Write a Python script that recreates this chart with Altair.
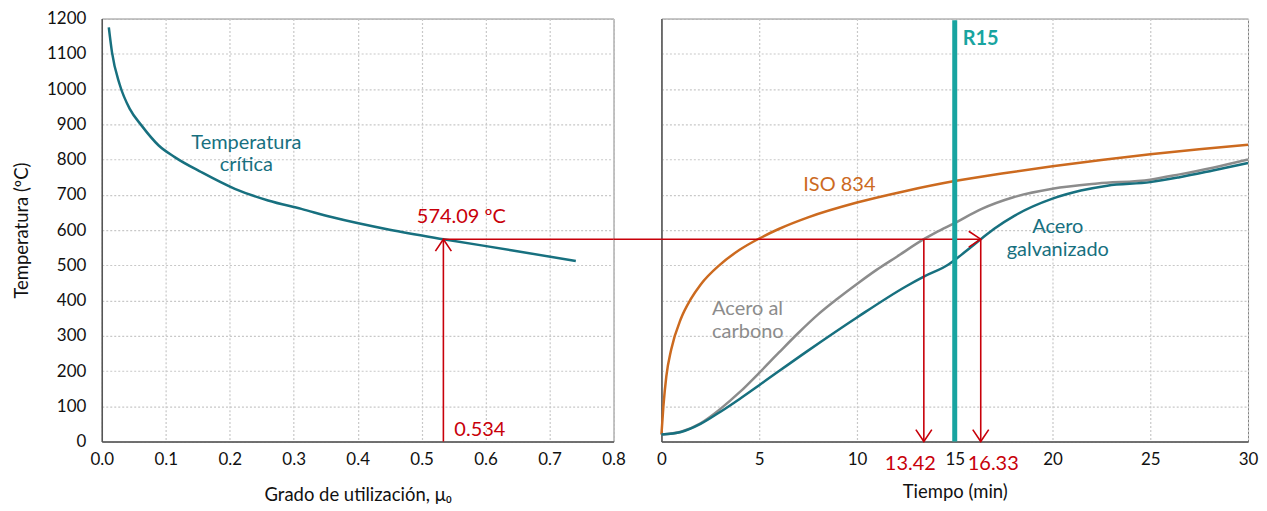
import altair as alt
import pandas as pd

# ---------------- data ----------------
# Left panel: critical temperature vs degree of utilisation
mu_crit = [0.011, 0.016, 0.028, 0.044, 0.062, 0.089, 0.114, 0.156, 0.208, 0.26,
           0.312, 0.359, 0.45, 0.534, 0.64, 0.741]
T_crit = [1175, 1104, 1013, 943, 897, 840, 807, 764, 717, 684,
          660, 637, 601, 574.09, 543, 512]

# Right panel: temperature vs time
t_iso = [0, 0.1, 0.25, 0.5, 1, 1.5, 2, 3, 4, 5, 6, 7.5, 10, 12.5, 15, 17.5, 20, 22.5, 25, 27.5, 30]
T_iso = [20, 100, 185, 261, 349, 404, 445, 502, 544, 576, 603, 636, 678, 711, 739, 761, 781, 799, 815, 829, 842]

t_carb = [0, 1, 2, 3, 4, 5, 6, 7, 8, 9, 10, 11, 12, 13.42, 14, 15, 16.38,
          18, 20, 22.3, 25, 26.5, 28.2, 30]
T_carb = [20, 28, 52, 92, 140, 195, 252, 308, 360, 405, 447, 487, 523, 574.09, 592, 620, 660,
          693, 717, 732, 743, 758, 777, 800]

t_galv = [0, 1, 2, 3, 4, 5, 7.5, 10, 12.5, 13.42, 14.7, 15, 15.5, 16.33, 17, 18.07,
          20, 21.45, 22.8, 25, 26.5, 28.2, 30]
T_galv = [20, 27, 50, 84, 121, 160, 258, 352, 440, 468, 503, 515, 537, 574.09, 603, 641,
          689, 712, 726, 736, 750, 769, 790]

series_names = ["ISO 834", "Acero al carbono", "Acero galvanizado"]

MU0 = 0.534
T_CRIT = 574.09
T_CARB_HIT = 13.42
T_GALV_HIT = 16.33
R15 = 15
R15_TOP = 1195

MU_DOMAIN = [0, 0.8]
T_DOMAIN = [0, 1200]
TIME_DOMAIN = [0, 30]
MU_TICKS = [i / 10 for i in range(9)]
T_TICKS = list(range(0, 1201, 100))
TIME_TICKS = list(range(0, 31, 5))

# ---------------- styles ----------------
FONT = "Lato"
TEAL = "#17707f"
ORANGE = "#cc6a1f"
GRAY = "#8c8c8c"
RED = "#c8000a"
R15C = "#18a4a0"

W_L, W_R, H, GAP = 513, 588, 424, 48
ANN = 20  # annotation font size

UP = "M-1,1.5L0,0L1,1.5"
DOWN = "M-1,-1.5L0,0L1,-1.5"
RIGHT = "M-1.5,-1L0,0L-1.5,1"

AX = dict(labelFont=FONT, labelFontSize=17, labelColor="#111111", labelOverlap=False,
          labelFlush=False, ticks=False, grid=True, gridColor="#c8c8c8",
          gridDash=[2, 2], gridWidth=1.2, domainColor="#555555", domainWidth=1.5,
          titleFont=FONT, titleFontSize=18.5, titleFontWeight="normal", titleColor="#111111")

# ---------------- left panel ----------------
df_crit = pd.DataFrame({"mu": mu_crit, "T": T_crit})
df_pt = pd.DataFrame({"mu": [MU0], "T": [T_CRIT], "T0": [T_DOMAIN[0]],
                      "muend": [MU_DOMAIN[1]],
                      "lab": [f"{T_CRIT:.2f} ºC"], "mulab": [f"{MU0:.3f}"]})

xs_l = alt.Scale(domain=MU_DOMAIN, nice=False)
ys = alt.Scale(domain=T_DOMAIN, nice=False)

ax_lx = alt.Axis(values=MU_TICKS, format=".1f", title="Grado de utilización, μ₀",
                 labelPadding=10, titlePadding=18, **AX)
ax_ly = alt.Axis(values=T_TICKS, format="d", title="Temperatura (ºC)",
                 labelPadding=16, titlePadding=15, **AX)

left_line = alt.Chart(df_crit).mark_line(color=TEAL, strokeWidth=2.5,
                                         interpolate="monotone").encode(
    x=alt.X("mu:Q", scale=xs_l, axis=ax_lx),
    y=alt.Y("T:Q", scale=ys, axis=ax_ly),
)

base_pt = alt.Chart(df_pt)
left_vrule = base_pt.mark_rule(color=RED, strokeWidth=1.6).encode(
    x=alt.X("mu:Q", axis=ax_lx), y=alt.Y("T0:Q", axis=ax_ly), y2="T:Q")
left_hrule = base_pt.mark_rule(color=RED, strokeWidth=1.6).encode(
    x=alt.X("mu:Q", axis=ax_lx), x2="muend:Q", y=alt.Y("T:Q", axis=ax_ly))
left_arrow = base_pt.mark_point(shape=UP, filled=False, size=256, color=RED,
                                strokeWidth=1.6, opacity=1).encode(
    x=alt.X("mu:Q", axis=ax_lx), y=alt.Y("T:Q", axis=ax_ly))
left_tlab = base_pt.mark_text(color=RED, fontSize=ANN, font=FONT, dx=18, dy=-22).encode(
    x=alt.X("mu:Q", axis=ax_lx), y=alt.Y("T:Q", axis=ax_ly), text="lab:N")
left_mulab = base_pt.mark_text(color=RED, fontSize=ANN, font=FONT, align="left", dx=11).encode(
    x=alt.X("mu:Q", axis=ax_lx), y=alt.value(H - 12), text="mulab:N")

df_crit_lab = pd.DataFrame({"mu": [0.226, 0.226], "T": [846, 784],
                            "txt": ["Temperatura", "crítica"]})
left_label = alt.Chart(df_crit_lab).mark_text(color=TEAL, fontSize=ANN, font=FONT).encode(
    x=alt.X("mu:Q", axis=ax_lx), y=alt.Y("T:Q", axis=ax_ly), text="txt:N")

left = alt.layer(left_line, left_vrule, left_hrule, left_arrow, left_tlab, left_mulab,
                 left_label).properties(width=W_L, height=H)

# ---------------- right panel ----------------
rows = []
for name, ts, Ts in zip(series_names, [t_iso, t_carb, t_galv], [T_iso, T_carb, T_galv]):
    for i, (a, b) in enumerate(zip(ts, Ts)):
        rows.append({"series": name, "t": a, "T": b, "i": i})
df_curves = pd.DataFrame(rows)

xs_r = alt.Scale(domain=TIME_DOMAIN, nice=False)
color_scale = alt.Scale(domain=series_names, range=[ORANGE, GRAY, TEAL])

ax_rx = alt.Axis(values=TIME_TICKS, format="d", title="Tiempo (min)",
                 labelPadding=10, titlePadding=15, **AX)
ax_ry = alt.Axis(values=T_TICKS, labels=False, title=None, **AX)

curves = alt.Chart(df_curves).mark_line(strokeWidth=2.5, interpolate="monotone").encode(
    x=alt.X("t:Q", scale=xs_r, axis=ax_rx),
    y=alt.Y("T:Q", scale=ys, axis=ax_ry),
    color=alt.Color("series:N", scale=color_scale, legend=None),
    order="i:Q",
)

df_hits = pd.DataFrame({"t": [T_CARB_HIT, T_GALV_HIT], "T": [T_CRIT, T_CRIT],
                        "T0": [T_DOMAIN[0]] * 2, "tstart": [TIME_DOMAIN[0]] * 2,
                        "lab": [f"{T_CARB_HIT:.2f}", f"{T_GALV_HIT:.2f}"]})
df_galv_hit = df_hits[df_hits["t"] == T_GALV_HIT]
df_carb_hit = df_hits[df_hits["t"] == T_CARB_HIT]

r_hrule = alt.Chart(df_galv_hit).mark_rule(color=RED, strokeWidth=1.6).encode(
    x=alt.X("tstart:Q", axis=ax_rx), x2="t:Q", y=alt.Y("T:Q", axis=ax_ry))
r_gap = alt.Chart(df_galv_hit).mark_rule(color=RED, strokeWidth=1.6).encode(
    x=alt.value(-GAP), x2=alt.value(0), y=alt.Y("T:Q", axis=ax_ry))
r_vrules = alt.Chart(df_hits).mark_rule(color=RED, strokeWidth=1.6).encode(
    x=alt.X("t:Q", axis=ax_rx), y=alt.Y("T0:Q", axis=ax_ry), y2="T:Q")
r_down = alt.Chart(df_hits).mark_point(shape=DOWN, filled=False, size=256, color=RED,
                                       strokeWidth=1.6, opacity=1).encode(
    x=alt.X("t:Q", axis=ax_rx), y=alt.Y("T0:Q", axis=ax_ry))
r_right = alt.Chart(df_galv_hit).mark_point(shape=RIGHT, filled=False, size=256, color=RED,
                                            strokeWidth=1.6, opacity=1).encode(
    x=alt.X("t:Q", axis=ax_rx), y=alt.Y("T:Q", axis=ax_ry))
r_lab_c = alt.Chart(df_carb_hit).mark_text(color=RED, fontSize=ANN, font=FONT, align="right",
                                           dx=12).encode(
    x=alt.X("t:Q", axis=ax_rx), y=alt.value(H + 23), text="lab:N")
r_lab_g = alt.Chart(df_galv_hit).mark_text(color=RED, fontSize=ANN, font=FONT, align="left",
                                           dx=-13).encode(
    x=alt.X("t:Q", axis=ax_rx), y=alt.value(H + 23), text="lab:N")

df_r15 = pd.DataFrame({"t": [R15], "T0": [T_DOMAIN[0]], "top": [R15_TOP], "txt": ["R15"]})
r15_rule = alt.Chart(df_r15).mark_rule(color=R15C, strokeWidth=5).encode(
    x=alt.X("t:Q", axis=ax_rx), y=alt.Y("T0:Q", axis=ax_ry), y2="top:Q")
r15_text = alt.Chart(df_r15).mark_text(color=R15C, fontSize=ANN, font=FONT, fontWeight="bold",
                                       align="left", dx=8).encode(
    x=alt.X("t:Q", axis=ax_rx), y=alt.value(20), text="txt:N")

df_labels = pd.DataFrame({
    "t": [9.1, 2.59, 2.59, 20.27, 20.27],
    "T": [727, 376, 311, 608, 544],
    "txt": ["ISO 834", "Acero al", "carbono", "Acero", "galvanizado"],
    "series": ["ISO 834", "Acero al carbono", "Acero al carbono",
               "Acero galvanizado", "Acero galvanizado"],
    "al": ["center", "left", "left", "center", "center"],
})
lab_center = alt.Chart(df_labels[df_labels["al"] == "center"]).mark_text(
    fontSize=ANN, font=FONT).encode(
    x=alt.X("t:Q", axis=ax_rx), y=alt.Y("T:Q", axis=ax_ry), text="txt:N",
    color=alt.Color("series:N", scale=color_scale, legend=None))
lab_left = alt.Chart(df_labels[df_labels["al"] == "left"]).mark_text(
    fontSize=ANN, font=FONT, align="left").encode(
    x=alt.X("t:Q", axis=ax_rx), y=alt.Y("T:Q", axis=ax_ry), text="txt:N",
    color=alt.Color("series:N", scale=color_scale, legend=None))

right = alt.layer(curves, r_hrule, r_gap, r_vrules, r_down, r_right, r15_rule, r15_text,
                  r_lab_c, r_lab_g, lab_center, lab_left).properties(width=W_R, height=H)

chart = alt.hconcat(left, right, spacing=GAP, bounds="flush").properties(
    padding={"left": 4, "top": 0, "right": 0, "bottom": 0}
).configure_view(
    stroke="#808080", strokeWidth=1
)

chart.save("out.html", embed_options={"renderer": "svg", "actions": False})
